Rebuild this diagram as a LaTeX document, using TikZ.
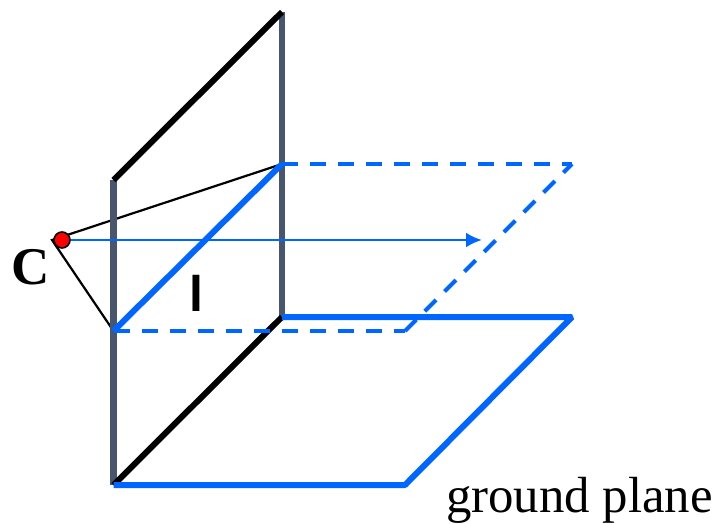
\documentclass[tikz,border=0pt]{standalone}
\usepackage{fontspec}
\setmainfont{Liberation Serif}
\newfontfamily\lsans{Liberation Sans}
\usetikzlibrary{arrows.meta}
\definecolor{bluel}{RGB}{0,102,255}
\definecolor{slatel}{RGB}{71,85,111}
\tikzset{
  slateedge/.style={draw=slatel,line width=6.5pt},
  blackedge/.style={draw=black,line width=6pt},
  blueedge/.style={draw=bluel,line width=6pt,line join=bevel},
  bluedash/.style={draw=bluel,line width=4pt,dash pattern=on 16pt off 12pt},
  ray/.style={draw=black,line width=2.2pt},
  axisray/.style={draw=bluel,line width=2.8pt,-{Latex[length=16pt,width=15pt]}},
  camera/.style={circle,draw=black,line width=1.6pt,fill=red,minimum size=16pt,inner sep=0pt},
  lab/.style={inner sep=0pt,text=black}
}
\begin{document}
\begin{tikzpicture}[x=1pt,y=-1pt]
\useasboundingbox (0,0) rectangle (720,523);
\coordinate (wbl) at (113.5,485);
\coordinate (wtl) at (113.5,180);
\coordinate (wtr) at (282,12);
\coordinate (wbr) at (282,317);
\coordinate (gfr) at (405,485);
\coordinate (gbr) at (572,317);
\coordinate (hl) at (113.5,331);
\coordinate (hr) at (282,164);
\coordinate (hfr) at (405,331);
\coordinate (hbr) at (572,164);
\coordinate (apex) at (52,240);
\coordinate (axisend) at (482,240);
\draw[ray] (hr) -- (apex) -- (hl);
\draw[slateedge] (wtl) -- (wbl);
\draw[slateedge] (wtr) -- (wbr);
\draw[blackedge] (wtl) -- (wtr);
\draw[blackedge] (wbl) -- (wbr);
\draw[blueedge] (wbr) -- (gbr) -- (gfr) -- (wbl);
\draw[blueedge] (hl) -- (hr);
\draw[bluedash] (hr) -- (hbr);
\draw[bluedash] (hfr) -- (hbr);
\draw[bluedash] (hl) -- (hfr);
\node[camera] (cam) at (62,240) {};
\draw[axisray] (cam) -- (axisend);
\node[lab,font=\fontsize{53}{53}\selectfont\bfseries,anchor=base west] (clabel) at (11,284) {C};
\node[lab,font=\lsans\fontsize{50}{50}\selectfont\bfseries,anchor=base] (llabel) at (196,311) {l};
\node[lab,font=\fontsize{50.8}{50.8}\selectfont,anchor=base west] (gp) at (446,512) {ground plane};
\end{tikzpicture}
\end{document}
